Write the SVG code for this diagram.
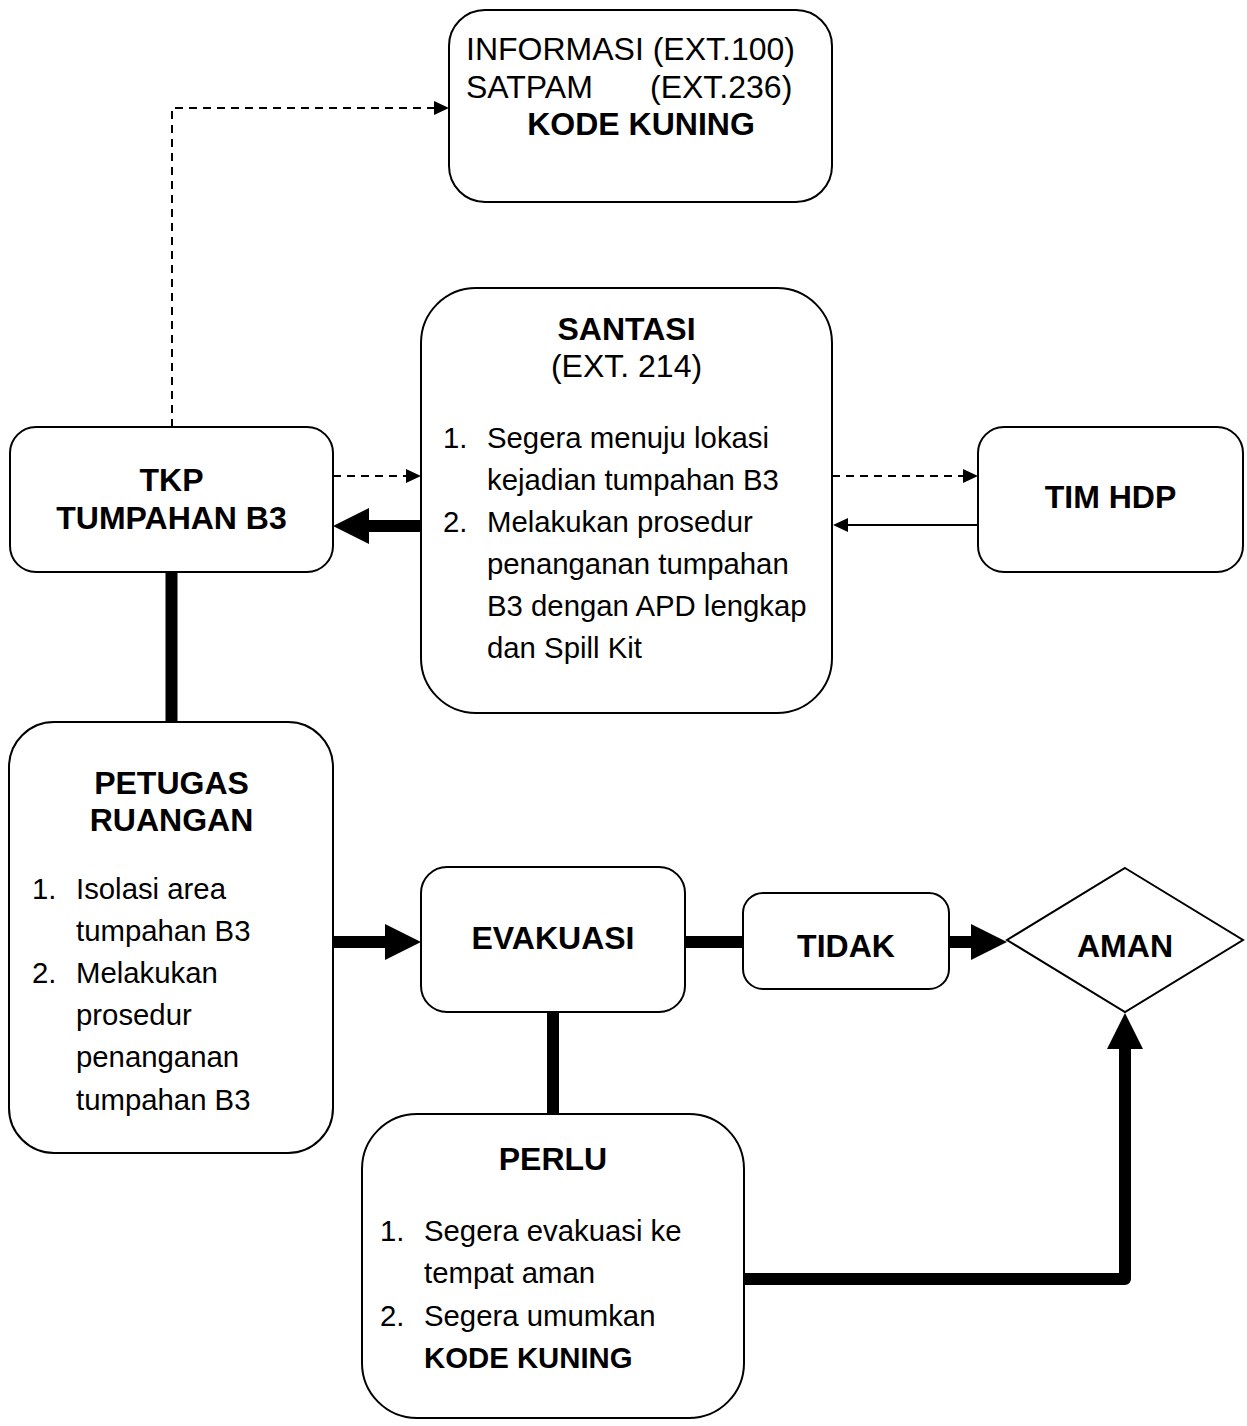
<svg xmlns="http://www.w3.org/2000/svg" width="1247" height="1426" viewBox="0 0 1247 1426">
<style>
.box{fill:#fff;stroke:#000;stroke-width:2}
.t{font-family:"Liberation Sans",Arial,sans-serif;fill:#000}
.h{font-size:32px;font-weight:bold;text-anchor:middle}
.r{font-size:32px}
.l{font-size:29.33px}
.lb{font-size:29.33px;font-weight:bold}
.thick{fill:none;stroke:#000;stroke-width:12;stroke-linejoin:round}
.thin{fill:none;stroke:#000;stroke-width:2}
.dash{fill:none;stroke:#000;stroke-width:2;stroke-dasharray:8 6}
</style>
<defs>
<marker id="ah" markerUnits="userSpaceOnUse" markerWidth="15" markerHeight="14" refX="0" refY="7" orient="auto" overflow="visible">
<path d="M0,0 L15,7 L0,14 z" fill="#000"/>
</marker>
<marker id="AH" markerUnits="userSpaceOnUse" markerWidth="36" markerHeight="36" refX="0" refY="18" orient="auto" overflow="visible">
<path d="M0,0 L36,18 L0,36 z" fill="#000"/>
</marker>
</defs>

<g id="connectors">
<path class="dash" d="M172,427 V108 H434" marker-end="url(#ah)"/>
<path class="dash" d="M333,476 H406" marker-end="url(#ah)"/>
<path class="dash" d="M832,476 H963" marker-end="url(#ah)"/>
<path class="thin" d="M978,525 H848" marker-end="url(#ah)"/>
<path class="thick" d="M421,526 H369" marker-end="url(#AH)"/>
<path class="thick" d="M171.5,573 V721"/>
<path class="thick" d="M333,942 H385" marker-end="url(#AH)"/>
<path class="thick" d="M685,942 H743"/>
<path class="thick" d="M949,942 H971" marker-end="url(#AH)"/>
<path class="thick" d="M553,1013 V1114"/>
<path class="thick" d="M744,1279 H1125 V1049" marker-end="url(#AH)"/>
</g>

<g id="node-info">
<rect class="box" x="449" y="10" width="383" height="192" rx="36"/>
<text class="t r" x="466" y="60">INFORMASI (EXT.100)</text>
<text class="t r" x="466" y="98">SATPAM</text>
<text class="t r" x="650" y="98">(EXT.236)</text>
<text class="t h" x="641" y="135">KODE KUNING</text>
</g>

<g id="node-tkp">
<rect class="box" x="10" y="427" width="323" height="145" rx="26"/>
<text class="t h" x="171.5" y="491">TKP</text>
<text class="t h" x="171.5" y="529">TUMPAHAN B3</text>
</g>

<g id="node-santasi">
<rect class="box" x="421" y="288" width="411" height="425" rx="55"/>
<text class="t h" x="626.5" y="340">SANTASI</text>
<text class="t r" x="626.5" y="377" text-anchor="middle">(EXT. 214)</text>
<text class="t l" x="443" y="448">1.</text>
<text class="t l" x="487" y="448">Segera menuju lokasi</text>
<text class="t l" x="487" y="490">kejadian tumpahan B3</text>
<text class="t l" x="443" y="532">2.</text>
<text class="t l" x="487" y="532">Melakukan prosedur</text>
<text class="t l" x="487" y="574">penanganan tumpahan</text>
<text class="t l" x="487" y="616">B3 dengan APD lengkap</text>
<text class="t l" x="487" y="658">dan Spill Kit</text>
</g>

<g id="node-timhdp">
<rect class="box" x="978" y="427" width="265" height="145" rx="26"/>
<text class="t h" x="1110.5" y="508">TIM HDP</text>
</g>

<g id="node-petugas">
<rect class="box" x="9" y="722" width="324" height="431" rx="45"/>
<text class="t h" x="171.5" y="794">PETUGAS</text>
<text class="t h" x="171.5" y="831">RUANGAN</text>
<text class="t l" x="32" y="899">1.</text>
<text class="t l" x="76" y="899">Isolasi area</text>
<text class="t l" x="76" y="941">tumpahan B3</text>
<text class="t l" x="32" y="983">2.</text>
<text class="t l" x="76" y="983">Melakukan</text>
<text class="t l" x="76" y="1025">prosedur</text>
<text class="t l" x="76" y="1067">penanganan</text>
<text class="t l" x="76" y="1110">tumpahan B3</text>
</g>

<g id="node-evakuasi">
<rect class="box" x="421" y="867" width="264" height="145" rx="26"/>
<text class="t h" x="553" y="949">EVAKUASI</text>
</g>

<g id="node-tidak">
<rect class="box" x="743" y="893" width="206" height="96" rx="20"/>
<text class="t h" x="846" y="957">TIDAK</text>
</g>

<g id="node-aman">
<polygon class="box" points="1125,868 1243,940 1125,1012 1007,940"/>
<text class="t h" x="1125" y="957">AMAN</text>
</g>

<g id="node-perlu">
<rect class="box" x="362" y="1114" width="382" height="304" rx="55"/>
<text class="t h" x="553" y="1170">PERLU</text>
<text class="t l" x="380" y="1241">1.</text>
<text class="t l" x="424" y="1241">Segera evakuasi ke</text>
<text class="t l" x="424" y="1283">tempat aman</text>
<text class="t l" x="380" y="1326">2.</text>
<text class="t l" x="424" y="1326">Segera umumkan</text>
<text class="t lb" x="424" y="1368">KODE KUNING</text>
</g>
</svg>
